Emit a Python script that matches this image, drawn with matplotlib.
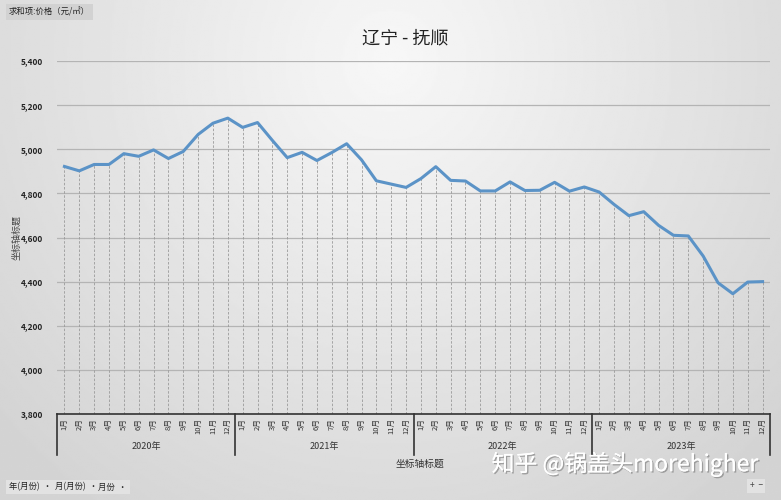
import matplotlib
matplotlib.use("Agg")
import matplotlib.pyplot as plt
import matplotlib.patheffects as pe
import numpy as np

plt.rcParams['font.family'] = ['Noto Sans CJK SC', 'DejaVu Sans']

years = ["2020年", "2021年", "2022年", "2023年"]
months = [f"{m}月" for m in range(1, 13)]
prices = [
    4922, 4902, 4931, 4931, 4980, 4968, 4997, 4958, 4990, 5067, 5118, 5141,
    5099, 5121, 5040, 4962, 4986, 4949, 4985, 5025, 4952, 4857, 4842, 4827,
    4867, 4921, 4859, 4856, 4811, 4811, 4852, 4813, 4814, 4850, 4810, 4829,
    4806, 4750, 4699, 4717, 4655, 4610, 4607, 4516, 4395, 4345, 4398, 4400,
]
yticks = [3800, 4000, 4200, 4400, 4600, 4800, 5000, 5200, 5400]

fig = plt.figure(figsize=(7.81, 5.0), dpi=100)

# gray gradient background
bg = fig.add_axes([0, 0, 1, 1], zorder=-10)
gx, gy = np.meshgrid(np.linspace(-1, 1, 400), np.linspace(0, 1, 260))
dist = np.sqrt((gx * 0.9) ** 2 + ((gy - 0.12) * 1.1) ** 2)
shade = 0.97 - 0.14 * np.clip(dist, 0, 1.2) / 1.2
bg.imshow(shade, cmap="gray", vmin=0, vmax=1, aspect="auto", extent=[0, 1, 0, 1])
bg.set_axis_off()

ax = fig.add_axes([57 / 781, 86 / 500, 713 / 781, 353 / 500])
ax.set_facecolor("none")
x = np.arange(len(prices))

ax.vlines(x, 3800, prices, colors="#9a9a9a", linestyles=(0, (3, 2)), linewidth=0.6, zorder=1)
ax.plot(x, prices, color="#5b93c7", linewidth=2.2, zorder=3, solid_joinstyle="round")

ax.set_xlim(-0.5, len(prices) - 0.5)
ax.set_ylim(3800, 5400)
ax.set_yticks(yticks)
ax.set_yticklabels([f"{v:,}" for v in yticks], fontsize=6, fontweight="bold", color="#222222")
ax.grid(axis="y", color="#b4b4b4", linewidth=0.9)
ax.set_axisbelow(True)
ax.tick_params(axis="y", length=0, pad=10)

for s in ["top", "right", "left"]:
    ax.spines[s].set_visible(False)
ax.spines["bottom"].set_color("#333333")
ax.spines["bottom"].set_linewidth(1.2)

ax.set_xticks(x)
ax.set_xticklabels(months * len(years), rotation=90, fontsize=5.5, color="#333333")
ax.tick_params(axis="x", length=0, pad=3)

trans = ax.get_xaxis_transform()
for i in range(len(years) + 1):
    ax.plot([i * 12 - 0.5] * 2, [0, -0.117], transform=trans, color="#333333",
            linewidth=1.2, clip_on=False)
for i, yr in enumerate(years):
    ax.text(i * 12 + 5.5, -0.093, yr, transform=trans, ha="center", va="center",
            fontsize=6.5, color="#333333")

fig.text(420 / 781, 1 - 464 / 500, "坐标轴标题", ha="center", va="center", fontsize=7, color="#333333")
fig.text(17 / 781, 1 - 238 / 500, "坐标轴标题", ha="center", va="center", rotation=90,
         fontsize=6.5, color="#444444")
fig.text(405 / 781, 1 - 38 / 500, "辽宁 - 抚顺", ha="center", va="center", fontsize=13, color="#222222")

btn = dict(boxstyle="square,pad=0.35", facecolor="#d2d2d2", edgecolor="none")
fig.text(9 / 781, 1 - 12 / 500, "求和项:价格（元/㎡）", ha="left", va="center", fontsize=6,
         color="#222222", bbox=btn)
btn2 = dict(boxstyle="square,pad=0.35", facecolor="#e2e2e2", edgecolor="none")
for bx, label in [(9, "年(月份)  ·"), (55, "月(月份)  ·"), (98, "月份  ·")]:
    fig.text(bx / 781, 1 - 487 / 500, label, ha="left", va="center", fontsize=6,
             color="#222222", bbox=btn2)
fig.text(756 / 781, 1 - 486 / 500, "+  −", ha="center", va="center", fontsize=6,
         color="#444444", bbox=btn2)

fig.text(625 / 781, 1 - 464 / 500, "知乎 @锅盖头morehigher", ha="center", va="center",
         fontsize=16.5, color="white",
         path_effects=[pe.withSimplePatchShadow(offset=(1, -1), shadow_rgbFace="#777777", alpha=0.6), pe.Normal()])

fig.savefig("out.png", dpi=100)
